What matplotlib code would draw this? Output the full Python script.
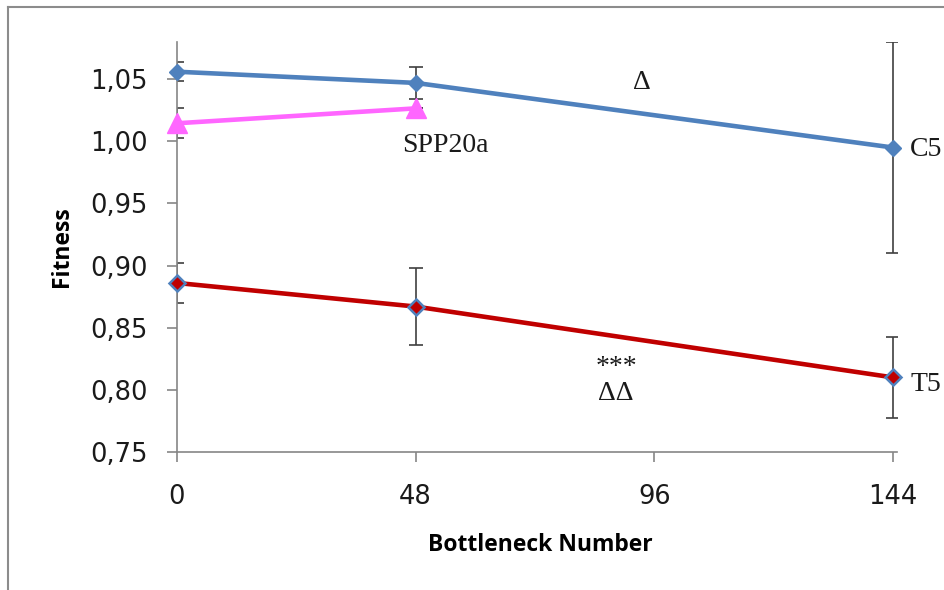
import matplotlib
matplotlib.use("Agg")
import matplotlib.pyplot as plt
from matplotlib.ticker import FuncFormatter
from matplotlib.lines import Line2D

plt.rcParams['font.family'] = ['Open Sans', 'DejaVu Sans']

# bottleneck numbers and mean fitness per line
bottlenecks = [0, 48, 144]
c5_fitness = [1.056, 1.047, 0.995]
c5_err = [0.0075, 0.013, 0.085]
t5_fitness = [0.886, 0.867, 0.810]
t5_err = [0.016, 0.031, 0.0325]
spp_bottlenecks = [0, 48]
spp_fitness = [1.0145, 1.0265]
spp_err = [0.012, 0.0]

yticks = [0.75, 0.80, 0.85, 0.90, 0.95, 1.00, 1.05]
xticks = [0, 48, 96, 144]

blue = '#4F81BD'
red = '#C00000'
pink = '#FF66FF'
grey = '#868686'
errc = '#3F3F3F'

fig = plt.figure(figsize=(9.44, 5.9), dpi=100)
ax = fig.add_axes([0.1875, 0.234, 0.7625, 0.695])

# error bars first so the markers sit on top of them
for xs, ys, es in [(bottlenecks, c5_fitness, c5_err),
                   (bottlenecks, t5_fitness, t5_err),
                   (spp_bottlenecks, spp_fitness, spp_err)]:
    ax.errorbar(xs, ys, yerr=es, fmt='none', ecolor=errc, elinewidth=1.2,
                capsize=4.8, capthick=1.2, zorder=2)

ax.plot(spp_bottlenecks, spp_fitness, color=pink, lw=3.3, marker='^', ms=15,
        mfc=pink, mec=pink, zorder=3, clip_on=False)
ax.plot(bottlenecks, c5_fitness, color=blue, lw=3.3, marker='D', ms=8.5,
        mfc=blue, mec=blue, zorder=4, clip_on=False)
ax.plot(bottlenecks, t5_fitness, color=red, lw=3.3, marker='D', ms=8.5,
        mfc=red, mec=blue, mew=1.8, zorder=5, clip_on=False)

ax.set_xlim(0, 144.8)
ax.set_ylim(0.75, 1.08)
ax.set_xticks(xticks)
ax.set_yticks(yticks)
ax.yaxis.set_major_formatter(FuncFormatter(lambda v, p: f"{v:.2f}".replace('.', ',')))

for s in ['top', 'right']:
    ax.spines[s].set_visible(False)
for s in ['left', 'bottom']:
    ax.spines[s].set_color(grey)
    ax.spines[s].set_linewidth(1.2)
ax.tick_params(axis='both', direction='out', length=7.2, width=1.2, color=grey,
               labelsize=18.5, labelcolor='#1a1a1a')
ax.tick_params(axis='y', pad=14)
ax.tick_params(axis='x', pad=16)
for lab in ax.get_xticklabels() + ax.get_yticklabels():
    lab.set_family('DejaVu Sans')

ax.set_xlabel('Bottleneck Number', fontsize=16.5, fontweight='bold')
ax.set_ylabel('Fitness', fontsize=16.5, fontweight='bold')
ax.yaxis.set_label_coords(-0.143, 0.5)
ax.xaxis.set_label_coords(0.505, -0.197)

serif = dict(family='Liberation Serif', fontsize=20, color='#1a1a1a')
ax.text(93.5, 1.047, 'Δ', ha='center', va='center', **serif)
ax.text(53.9, 0.997, 'SPP20a', ha='center', va='center', **serif)
ax.text(147.5, 0.993, 'C5', ha='left', va='center', **serif)
ax.text(147.5, 0.804, 'T5', ha='left', va='center', **serif)
ax.text(88.5, 0.8075, '***', ha='center', va='bottom', **serif)
ax.text(88.2, 0.797, 'ΔΔ', ha='center', va='center', **serif)

# outer chart frame (top and left edges)
fig.add_artist(Line2D([8 / 944, 1], [1 - 7 / 590, 1 - 7 / 590], color='#8c8c8c', lw=1.5))
fig.add_artist(Line2D([8 / 944, 8 / 944], [0, 1 - 7 / 590], color='#8c8c8c', lw=1.5))

fig.savefig('out.png', dpi=100)
